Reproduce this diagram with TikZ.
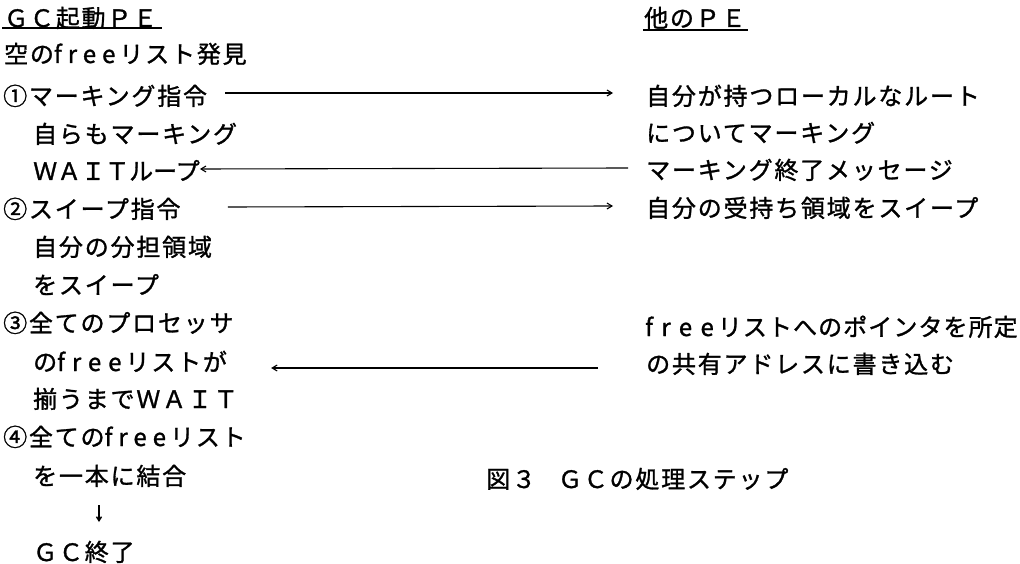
\documentclass[tikz,border=0pt]{standalone}
\usepackage{fontspec}
\setmainfont{Noto Sans CJK JP}[LetterSpace=7.5,FakeBold=1.2]
\usetikzlibrary{arrows.meta}
\newcommand\freeword[1][29]{{\addfontfeature{LetterSpace=#1}free}\kern4pt}
\begin{document}
\begin{tikzpicture}[x=1pt,y=-1pt,
  txt/.style={anchor=west,inner sep=0pt,text height=21pt,text depth=3pt,font=\fontsize{24}{27}\selectfont},
  arr/.style={line width=1.1pt,-{Straight Barb[length=5pt,width=6pt]}},
  uline/.style={line width=1.1pt}]
\useasboundingbox (0,0) rectangle (1020,564);
% left column
\node[txt] (l1) at (4,18) {ＧＣ起動ＰＥ};
\node[txt] (l2) at (4,54) {空の\freeword[25]リスト発見};
\node[txt] (l3) at (3,96) {①マーキング指令};
\node[txt] (l4) at (33,134) {自らもマーキング};
\node[txt] (l5) at (33,171) {\addfontfeature{LetterSpace=0}ＷＡＩＴループ};
\node[txt] (l6) at (3,209) {②スイープ指令};
\node[txt] (l7) at (33,247) {自分の分担領域};
\node[txt] (l8) at (33,285) {をスイープ};
\node[txt] (l9) at (3,323) {③全てのプロセッサ};
\node[txt] (l10) at (33,362) {の\freeword リストが};
\node[txt] (l11) at (33,399) {揃うまでＷＡＩＴ};
\node[txt] (l12) at (3,437) {④全ての\freeword[25]リスト};
\node[txt] (l13) at (33,476) {を一本に結合};
\node[txt] (l15) at (33,552) {ＧＣ終了};
% right column
\node[txt] (r1) at (644,18) {他のＰＥ};
\node[txt] (r3) at (646,96) {自分が持つローカルなルート};
\node[txt] (r4) at (646,133) {についてマーキング};
\node[txt] (r5) at (646,170) {マーキング終了メッセージ};
\node[txt] (r6) at (646,208) {自分の受持ち領域をスイープ};
\node[txt] (r9) at (645,327) {\addfontfeature{LetterSpace=4.5}\freeword[35]リストへのポインタを所定};
\node[txt] (r10) at (646,364) {の共有アドレスに書き込む};
\node[txt] (cap) at (486,479) {図３\hspace{22pt}ＧＣの処理ステップ};
% underlines
\draw[uline] ([xshift=-2pt,yshift=-10pt]l1.west) -- ([xshift=5pt,yshift=-10pt]l1.east);
\draw[uline] ([xshift=-1pt,yshift=-12pt]r1.west) -- ([xshift=2pt,yshift=-12pt]r1.east);
% arrows
\draw[arr] ([xshift=18pt,yshift=3pt]l3.east) -- ([xshift=-33pt,yshift=3pt]r3.west);
\draw[arr] ([xshift=-18pt,yshift=2pt]r5.west) -- ([xshift=0pt,yshift=2pt]l5.east);
\draw[arr] ([xshift=47pt,yshift=2pt]l6.east) -- ([xshift=-33pt,yshift=2pt]r6.west);
\draw[arr] ([xshift=-48pt,yshift=-4pt]r10.west) -- ([xshift=44pt,yshift=-6pt]l10.east);
\coordinate (dtop) at ([xshift=66pt,yshift=-29pt]l13.west);
\coordinate (dbot) at ([xshift=66pt,yshift=30pt]l15.west);
\draw[line width=1.4pt,-{Straight Barb[length=4pt,width=5pt]}] (dtop) -- (dbot);
\end{tikzpicture}
\end{document}
